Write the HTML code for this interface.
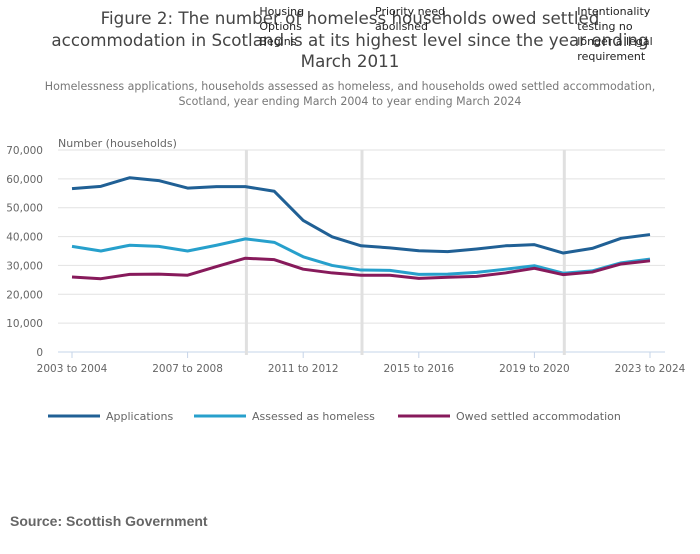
<!DOCTYPE html>
<html><head><meta charset="utf-8"><style>
body{margin:0;width:700px;height:549px;background:#fff;font-family:"Liberation Sans","DejaVu Sans",sans-serif;overflow:hidden}
svg text{font-family:"DejaVu Sans","Liberation Sans",sans-serif}
</style></head><body>
<svg id="chart" width="700" height="549">
<g id="titles">
<text x="350" y="24" text-anchor="middle" font-size="16.7" fill="#444">Figure 2: The number of homeless households owed settled</text>
<text x="350" y="46" text-anchor="middle" font-size="16.7" fill="#444">accommodation in Scotland is at its highest level since the year ending</text>
<text x="350" y="67" text-anchor="middle" font-size="16.7" fill="#444">March 2011</text>
</g>
<g>
<text x="350" y="90" text-anchor="middle" font-size="11.05" fill="#777">Homelessness applications, households assessed as homeless, and households owed settled accommodation,</text>
<text x="350" y="105" text-anchor="middle" font-size="11.05" fill="#777">Scotland, year ending March 2004 to year ending March 2024</text>
</g>
<text x="58" y="147" font-size="11" fill="#666">Number (households)</text>
<g id="grid"></g><g id="yticks"></g><g id="xticks"></g><g id="events"></g><g id="series"></g>
<g>
<line x1="48" y1="416" x2="100" y2="416" stroke="#206095" stroke-width="3"/>
<text x="106" y="420" font-size="11" fill="#666">Applications</text>
<line x1="194" y1="416" x2="246" y2="416" stroke="#27a0cc" stroke-width="3"/>
<text x="252" y="420" font-size="11" fill="#666">Assessed as homeless</text>
<line x1="398" y1="416" x2="450" y2="416" stroke="#871a5b" stroke-width="3"/>
<text x="456" y="420" font-size="11" fill="#666">Owed settled accommodation</text>
</g>
<text x="10" y="526" font-size="14" font-weight="bold" fill="#666" style="font-family:'Liberation Sans',sans-serif">Source: Scottish Government</text>
</svg>
<script>
const categories=["2003 to 2004","2004 to 2005","2005 to 2006","2006 to 2007","2007 to 2008","2008 to 2009","2009 to 2010","2010 to 2011","2011 to 2012","2012 to 2013","2013 to 2014","2014 to 2015","2015 to 2016","2016 to 2017","2017 to 2018","2018 to 2019","2019 to 2020","2020 to 2021","2021 to 2022","2022 to 2023","2023 to 2024"];
const applications=[56600,57400,60400,59400,56800,57300,57300,55700,45600,39900,36800,36100,35100,34800,35700,36800,37200,34300,35900,39400,40700];
const assessed=[36600,35000,37000,36600,35000,37000,39200,38000,33000,30000,28400,28300,26900,27000,27600,28700,29900,27300,28100,30900,32200];
const owed=[26000,25400,26900,27000,26600,29600,32500,32000,28700,27400,26600,26600,25500,25900,26200,27400,29000,26800,27700,30500,31600];
const yTicks=[0,10000,20000,30000,40000,50000,60000,70000];
const xTickIdx=[0,4,8,12,16,20];
const eventIdx=[6,10,17];
const eventLabels=[["Housing","Options","Begins"],["Priority need","abolished"],["Intentionality","testing no","longer a legal","requirement"]];
const NS="http://www.w3.org/2000/svg";
const X0=72,X1=650,Y0=352,Y1=150,XR=665;
function xs(i){return X0+(X1-X0)*i/(categories.length-1);}
function ys(v){return Y0-(Y0-Y1)*v/70000;}
function mk(tag,attrs,parent){const e=document.createElementNS(NS,tag);for(const k in attrs)e.setAttribute(k,attrs[k]);parent.appendChild(e);return e;}
const grid=document.getElementById('grid'),yt=document.getElementById('yticks');
yTicks.forEach(v=>{
 const l=mk('line',{x1:58,x2:XR,y1:ys(v),y2:ys(v),stroke:v===0?'#c6d4e8':'#e2e2e2','stroke-width':1},grid);
 
 
 const t=mk('text',{x:43,y:ys(v)+4,'text-anchor':'end','font-size':10.5,fill:'#666'},yt);
 t.textContent=v.toLocaleString('en-US');
 
 
});
const xt=document.getElementById('xticks');
xTickIdx.forEach(i=>{
 const l=mk('line',{x1:xs(i),x2:xs(i),y1:Y0,y2:Y0+6,stroke:'#c6d4e8'},xt);
 
 
 const t=mk('text',{x:xs(i),y:Y0+20,'text-anchor':'middle','font-size':10.5,fill:'#666'},xt);
 t.textContent=categories[i];
 
 
});
const ev=document.getElementById('events');
eventIdx.forEach((i,k)=>{
 const x=xs(i)+1;
 const l=mk('line',{x1:x,x2:x,y1:Y1,y2:Y0+3,stroke:'#e0e0e0','stroke-width':3},ev);
 
 
 eventLabels[k].forEach((s,j)=>{
  const t=mk('text',{x:x+13,y:15+15*j,'font-size':11,fill:'#222'},ev);
  t.textContent=s;
  
  
 });
});
const sg=document.getElementById('series');
[[applications,'#206095','applications-line'],[assessed,'#27a0cc','assessed-line'],[owed,'#871a5b','owed-line']].forEach(([d,c,n])=>{
 const p=mk('polyline',{points:d.map((v,i)=>xs(i)+','+ys(v)).join(' '),fill:'none',stroke:c,'stroke-width':3,'stroke-linejoin':'round'},sg);
 
 
});
</script>
</body></html>
